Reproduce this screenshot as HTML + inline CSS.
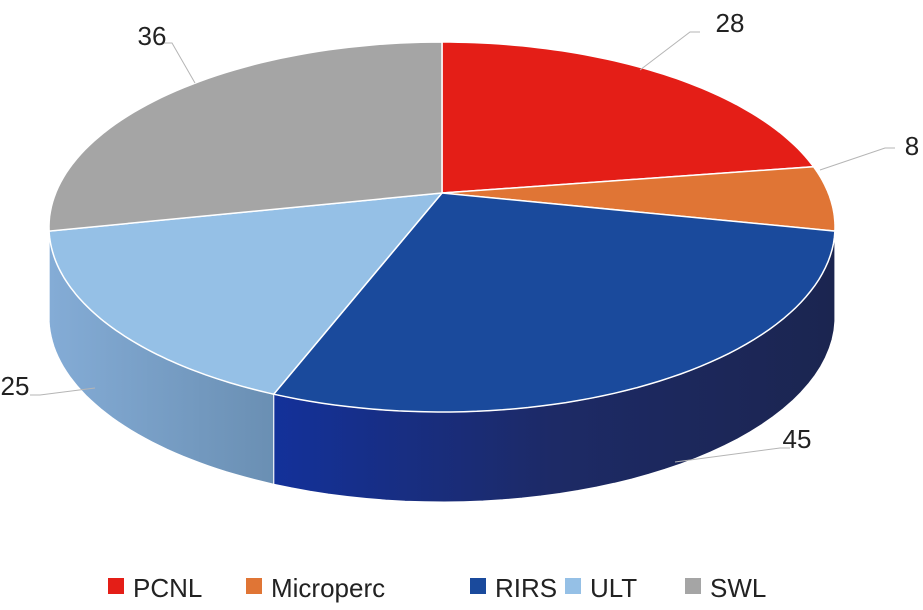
<!DOCTYPE html>
<html><head><meta charset="utf-8"><style>
body{margin:0;background:#fff;}
svg{display:block;font-family:"Liberation Sans",Arial,sans-serif;}
</style></head><body>
<svg id="c" width="923" height="610">
<defs>
<linearGradient id="gRIRS" x1="0" x2="1" y1="0" y2="0"><stop offset="0" stop-color="#13319a"/><stop offset="0.5" stop-color="#1d2a66"/><stop offset="1" stop-color="#1b2550"/></linearGradient>
<linearGradient id="gULT" x1="0" x2="1" y1="0" y2="0"><stop offset="0" stop-color="#84acd6"/><stop offset="1" stop-color="#6a8fb3"/></linearGradient>
</defs>
</svg>
<script>
const categories=["PCNL","Microperc","RIRS","ULT","SWL"];
const values=[28,8,45,25,36];
const colors=["#e41e17","#e07535","#1a4a9c","#95c0e6","#a5a5a5"];
const sideFill=["#a01510","#a0522a","url(#gRIRS)","url(#gULT)","#7a7a7a"];
const svg=document.getElementById('c');
const NS="http://www.w3.org/2000/svg";
const cx=442,cy=227,rx=393,ry=185,depth=90,ax=442,ay=193;
const total=values.reduce((a,b)=>a+b,0);
function pt(deg,dy){const r=deg*Math.PI/180;return [cx+rx*Math.sin(r),cy-ry*Math.cos(r)+(dy||0)];}
function mk(tag,attrs){const e=document.createElementNS(NS,tag);for(const k in attrs)e.setAttribute(k,attrs[k]);return e;}
let angs=[];let acc=0;
values.forEach(v=>{angs.push([acc/total*360,(acc+v)/total*360]);acc+=v;});
// sides
angs.forEach((a,i)=>{
  const s=Math.max(a[0],90),e=Math.min(a[1],270);
  if(e<=s)return;
  let d="";const n=40;
  for(let k=0;k<=n;k++){const p=pt(s+(e-s)*k/n);d+=(k?"L":"M")+p[0].toFixed(1)+","+p[1].toFixed(1);}
  for(let k=n;k>=0;k--){const p=pt(s+(e-s)*k/n,depth);d+="L"+p[0].toFixed(1)+","+p[1].toFixed(1);}
  const el=mk('path',{d:d+"Z",fill:sideFill[i],stroke:"#fff","stroke-width":1});
  
  
  svg.appendChild(el);
});
// tops
angs.forEach((a,i)=>{
  let d="M"+ax+","+ay;const n=60;
  for(let k=0;k<=n;k++){const p=pt(a[0]+(a[1]-a[0])*k/n);d+="L"+p[0].toFixed(1)+","+p[1].toFixed(1);}
  const el=mk('path',{d:d+"Z",fill:colors[i],stroke:"#fff","stroke-width":1.5});
  
  
  svg.appendChild(el);
});
// labels
const labelPos=[[730,32,640,70,690,32],[912,155,820,170,885,148],[797,448,675,462,780,448],[15,395,95,388,40,395],[152,45,195,83,172,43]];
values.forEach((v,i)=>{
  const L=labelPos[i];
  const ln=mk('polyline',{points:L[2]+","+L[3]+" "+L[4]+","+L[5]+" "+(L[4]+(L[4]>L[2]?10:-10))+","+L[5],fill:"none",stroke:"#b5b5b5","stroke-width":1});
  
  
  svg.appendChild(ln);
  const t=mk('text',{x:L[0],y:L[1],"font-size":26,fill:"#222","text-anchor":"middle"});
  t.textContent=v;
  
  
  svg.appendChild(t);
});
// legend
const legX=[108,246,470,565,685];
categories.forEach((c,i)=>{
  const g=mk('g',{});
  
  
  g.appendChild(mk('rect',{x:legX[i],y:578,width:16,height:16,fill:colors[i]}));
  const t=mk('text',{x:legX[i]+25,y:597,"font-size":26,fill:"#222"});
  t.textContent=c;g.appendChild(t);
  svg.appendChild(g);
});
</script>
</body></html>
